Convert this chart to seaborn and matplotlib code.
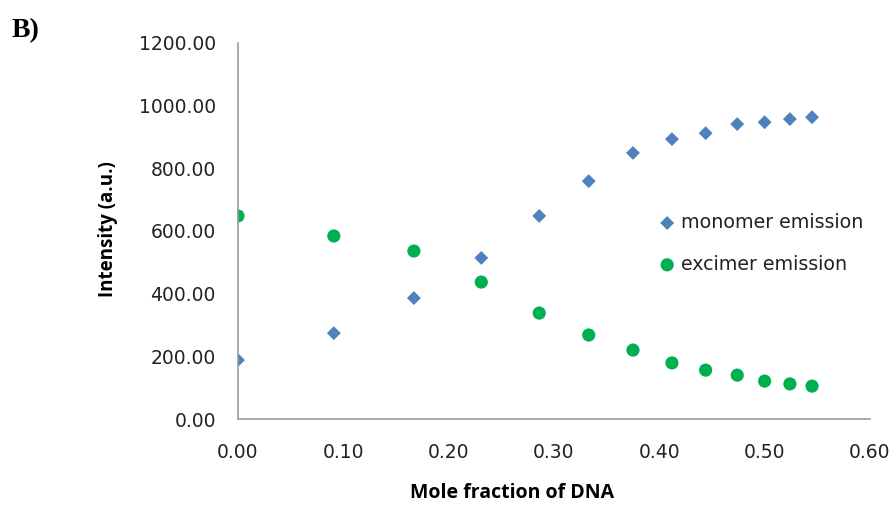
import matplotlib
matplotlib.use("Agg")
import matplotlib.pyplot as plt
import seaborn as sns
import pandas as pd

# Mole fraction of DNA for each titration point
mole_fraction = [0.000, 0.091, 0.167, 0.231, 0.286, 0.333, 0.375,
                 0.412, 0.444, 0.474, 0.500, 0.524, 0.545]
# Emission intensities (a.u.)
monomer = [188, 274, 386, 514, 648, 759, 849, 893, 912, 941, 947, 957, 963]
excimer = [648, 584, 536, 437, 338, 268, 220, 179, 156, 140, 121, 112, 105]

x_ticks = [0.0, 0.1, 0.2, 0.3, 0.4, 0.5, 0.6]
y_ticks = [0, 200, 400, 600, 800, 1000, 1200]

sns.set_theme(style="white")
plt.rcParams["font.family"] = ["DejaVu Sans"]
title_font = ["Open Sans", "DejaVu Sans"]

df = pd.DataFrame({"x": mole_fraction, "monomer": monomer, "excimer": excimer})

fig = plt.figure(figsize=(8.93, 5.11), dpi=100)
ax = fig.add_axes([0.2665, 0.180, 0.7077, 0.736])

sns.scatterplot(data=df, x="x", y="monomer", ax=ax, marker="D", s=50,
                color="#4F81BD", edgecolor="none", label="monomer emission")
sns.scatterplot(data=df, x="x", y="excimer", ax=ax, marker="o", s=90,
                color="#00B050", edgecolor="none", label="excimer emission")

ax.set_xlim(0, 0.6)
ax.set_ylim(0, 1200)
ax.set_xticks(x_ticks)
ax.set_yticks(y_ticks)
ax.set_xticklabels([f"{v:.2f}" for v in x_ticks], fontsize=13.5, color="#222222")
ax.set_yticklabels([f"{v:.2f}" for v in y_ticks], fontsize=13.5, color="#222222")
ax.tick_params(axis="both", length=0)
ax.tick_params(axis="x", pad=17)
ax.tick_params(axis="y", pad=16)

for side in ("top", "right"):
    ax.spines[side].set_visible(False)
for side in ("left", "bottom"):
    ax.spines[side].set_color("#999999")
    ax.spines[side].set_linewidth(1.2)

ax.set_xlabel("")
ax.set_ylabel("")
fig.text(0.573, 0.016, "Mole fraction of DNA", ha="center", va="bottom",
         fontsize=14, fontweight="bold", color="black", family=title_font)
fig.text(0.121, 0.551, "Intensity (a.u.)", ha="center", va="center",
         rotation=90, fontsize=13.5, fontweight="bold", color="black",
         family=title_font)
fig.text(0.013, 0.940, "B)", ha="left", va="center", fontsize=20,
         fontweight="bold", family="Liberation Serif", color="black")

leg = ax.legend(loc="center left", bbox_to_anchor=(0.652, 0.467), frameon=False,
                fontsize=13.7, handlelength=1.0, handletextpad=0.25,
                labelspacing=1.2, borderaxespad=0, borderpad=0.4)
for t in leg.get_texts():
    t.set_color("#222222")

fig.savefig("out.png", dpi=100)
